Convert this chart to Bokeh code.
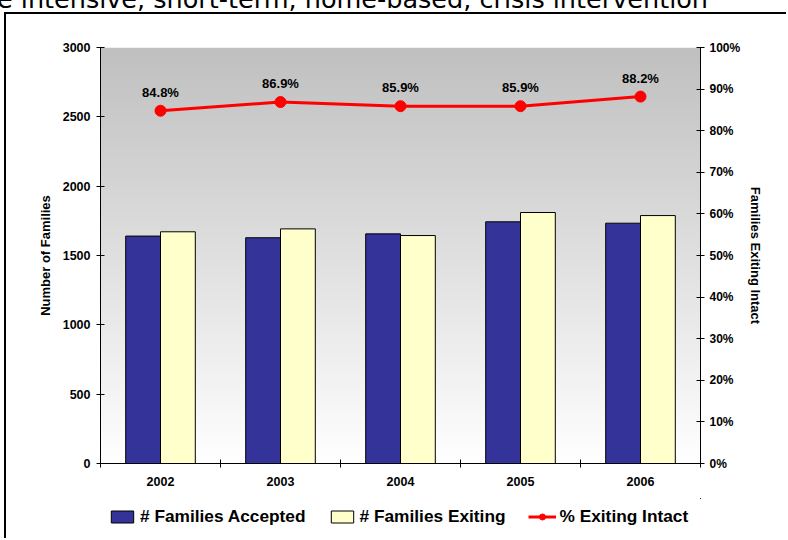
import numpy as np
from bokeh.plotting import figure
from bokeh.layouts import column
from bokeh.core.properties import value
from bokeh.models import (ColumnDataSource, Range1d, LinearAxis, FixedTicker,
                          PrintfTickFormatter, Legend, LegendItem, LabelSet, Div)
from bokeh.embed import file_html
from bokeh.resources import INLINE

years = ["2002", "2003", "2004", "2005", "2006"]
accepted = [1640, 1628, 1656, 1743, 1733]
exiting = [1671, 1692, 1644, 1810, 1788]
pct_intact = [84.8, 86.9, 85.9, 85.9, 88.2]
pct_labels = ["84.8%", "86.9%", "85.9%", "85.9%", "88.2%"]
left_ticks = [0, 500, 1000, 1500, 2000, 2500, 3000]
right_ticks = [0, 10, 20, 30, 40, 50, 60, 70, 80, 90, 100]
title_text = "e intensive, short-term, home-based, crisis intervention"
series_names = ["# Families Accepted", "# Families Exiting", "% Exiting Intact"]
right_title = "Families Exiting Intact"

FONT = "Liberation Sans"
BLUE, YELLOW, RED = "#333399", "#FFFFCC", "#FF0000"
n = len(years)
centers = np.arange(n) + 0.5
bw = 0.29

src = ColumnDataSource(dict(
    xa=centers - bw / 2, xe=centers + bw / 2, xc=centers,
    accepted=accepted, exiting=exiting, pct=pct_intact, lab=pct_labels,
))

head = Div(text=f'<div style="margin-top:-22px;margin-left:-3px;transform:translateY(-4px);'
                f'font-family:\'DejaVu Sans\';font-size:25.5px;line-height:26px;'
                f'white-space:nowrap;color:#000">{title_text}</div>',
           width=788, height=12, margin=(0, 0, 0, 0),
           styles={"overflow": "hidden"})

p = figure(width=782, height=486, output_backend="svg", toolbar_location=None,
           x_range=Range1d(0, n), y_range=Range1d(0, 3000),
           min_border_left=94, min_border_right=88, min_border_top=33,
           min_border_bottom=37)
p.margin = (0, 0, 0, 4)
p.styles = {"border-left": "2px solid #000", "border-top": "2px solid #000"}
p.outline_line_color = None
p.xgrid.visible = False
p.ygrid.visible = False
p.background_fill_color = "white"
p.border_fill_color = "white"

# gradient background of plotting area
rows = 200
g = np.linspace(255, 192, rows).astype(np.uint32)
img = np.zeros((rows, 1), dtype=np.uint32)
view = img.view(dtype=np.uint8).reshape((rows, 1, 4))
view[:, :, 0] = g[:, None]
view[:, :, 1] = g[:, None]
view[:, :, 2] = g[:, None]
view[:, :, 3] = 255
p.image_rgba(image=[img], x=0, y=0, dw=n, dh=3000)

p.extra_y_ranges = {"pct": Range1d(0, 100)}

p.vbar(x="xa", top="accepted", width=bw, source=src, fill_color=BLUE,
       line_color="#000000", line_width=1)
p.vbar(x="xe", top="exiting", width=bw, source=src, fill_color=YELLOW,
       line_color="#000000", line_width=1)
p.line(x="xc", y="pct", source=src, y_range_name="pct", line_color=RED, line_width=3)
p.scatter(x="xc", y="pct", source=src, y_range_name="pct", size=11,
          fill_color=RED, line_color=RED)

labels = LabelSet(x="xc", y="pct", text="lab", source=src, y_range_name="pct",
                  y_offset=11, text_align="center", text_font=value(FONT),
                  text_font_size="13px", text_font_style="bold", text_color="#000000")
p.add_layout(labels)

# x axis
xa = p.xaxis[0]
xa.ticker = FixedTicker(ticks=list(centers), minor_ticks=list(range(n + 1)))
xa.major_label_overrides = {float(c): y for c, y in zip(centers, years)}
xa.major_tick_line_color = None
xa.minor_tick_in = 4
xa.minor_tick_out = 4
xa.minor_tick_line_color = "#000000"
xa.axis_line_color = "#000000"
xa.major_label_text_font = FONT
xa.major_label_text_font_size = "12.5px"
xa.major_label_text_font_style = "bold"
xa.major_label_text_color = "#000000"
xa.major_label_standoff = 7

ya = p.yaxis[0]
ya.ticker = FixedTicker(ticks=left_ticks)
ya.major_tick_in = 4
ya.major_tick_out = 4
ya.minor_tick_line_color = None
ya.axis_line_color = "#000000"
ya.major_label_text_font = FONT
ya.major_label_text_font_size = "12.5px"
ya.major_label_text_font_style = "bold"
ya.major_label_text_color = "#000000"
ya.major_label_standoff = 6
ya.axis_label = "Number of Families"
ya.axis_label_text_font = FONT
ya.axis_label_text_font_size = "13px"
ya.axis_label_text_font_style = "bold"
ya.axis_label_text_color = "#000000"
ya.axis_label_standoff = 7

ra = LinearAxis(y_range_name="pct", ticker=FixedTicker(ticks=right_ticks),
                formatter=PrintfTickFormatter(format="%d%%"))
ra.major_tick_in = 4
ra.major_tick_out = 4
ra.minor_tick_line_color = None
ra.axis_line_color = "#000000"
ra.major_label_text_font = FONT
ra.major_label_text_font_size = "12px"
ra.major_label_text_font_style = "bold"
ra.major_label_text_color = "#000000"
ra.major_label_standoff = 5
ra.axis_label = right_title
ra.axis_label_text_font = FONT
ra.axis_label_text_font_size = "13px"
ra.axis_label_text_font_style = "bold"
ra.axis_label_text_color = "#000000"
ra.axis_label_standoff = 5
p.add_layout(ra, "right")

# legend strip (separate small figure below the chart; its ranges keep the
# proxy renderers out of view so only the legend shows)
lf = figure(width=782, height=40, output_backend="svg", toolbar_location=None,
            x_range=Range1d(-20, -10), y_range=Range1d(-20, -10),
            min_border=0, min_border_left=0, min_border_right=0,
            min_border_top=0, min_border_bottom=0)
lf.margin = (0, 0, 0, 4)
lf.styles = {"border-left": "2px solid #000"}
lf.xaxis.visible = False
lf.yaxis.visible = False
lf.grid.visible = False
lf.outline_line_color = None
lf.background_fill_color = "white"
lf.border_fill_color = "white"
l_acc = lf.vbar(x="xa", top="accepted", width=bw, source=src, fill_color=BLUE,
                line_color="#000000")
l_exi = lf.vbar(x="xe", top="exiting", width=bw, source=src, fill_color=YELLOW,
                line_color="#000000")
l_line = lf.line(x="xc", y="pct", source=src, line_color=RED, line_width=3)
l_pts = lf.scatter(x="xc", y="pct", source=src, size=11, fill_color=RED, line_color=RED)

legend = Legend(items=[
    LegendItem(label=series_names[0], renderers=[l_acc]),
    LegendItem(label=series_names[1], renderers=[l_exi]),
    LegendItem(label=series_names[2], renderers=[l_line, l_pts]),
], orientation="horizontal", location=(8, 11), border_line_color=None,
    background_fill_alpha=0, label_text_font=FONT, label_text_font_size="17.3px",
    label_text_font_style="bold", label_text_color="#000000",
    glyph_width=28, glyph_height=15, spacing=22,
    label_standoff=4, padding=2, margin=0)
lf.add_layout(legend)

layout = column(head, p, lf, spacing=0)
open("out.html", "w").write(file_html(layout, INLINE))
